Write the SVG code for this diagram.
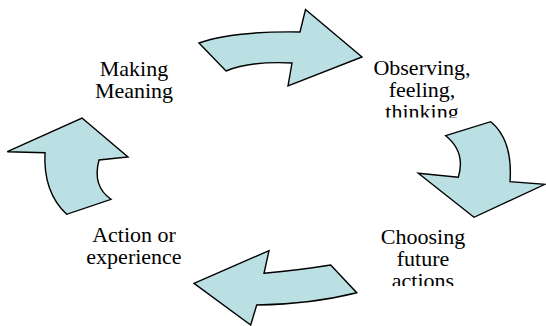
<svg xmlns="http://www.w3.org/2000/svg" width="546" height="326" viewBox="0 0 546 326">
  <style>
    .arrow { fill: #BBE0E3; stroke: #000; stroke-width: 1.4; stroke-linejoin: miter; }
    .label { font-size: 22px; fill: #000; text-anchor: middle; }
  </style>
  <defs>
    <clipPath id="clipObserve"><rect x="340" y="40" width="170" height="77.5"/></clipPath>
    <clipPath id="clipChoose"><rect x="340" y="222" width="170" height="64"/></clipPath>
  </defs>
  <rect width="546" height="326" fill="#fff"/>

  <!-- curved block arrows forming the cycle -->
  <g id="connectors">
    <path id="arrow-top" class="arrow" d="M199,43 Q232,31 300,32 L305.5,9.5 L362,57 L288,86 L292,63 Q250,61 226,71 Z"/>
    <path id="arrow-right" class="arrow" d="M445.7,135.7 L490.7,121.7 Q513,140 510,181.7 L545,184.3 L474,217.3 L418.3,173.3 L458.3,177.3 Q466,152 445.7,135.7 Z"/>
    <path id="arrow-bottom" class="arrow" d="M194,283.3 L269,250.7 L264,273.3 Q300,270 330.7,265 L356.7,292.7 Q312,304 256.7,305 L250.7,325 Z"/>
    <path id="arrow-left" class="arrow" d="M82,118 L128,157 L99,160 Q92,186 111,199.3 L66.7,214.3 Q43,192 45,152.7 L7.3,151.7 Z"/>
  </g>

  <g font-family="Liberation Serif">
    <g id="node-making-meaning">
      <text class="label" font-family="Liberation Serif" x="134" y="76">Making</text>
      <text class="label" font-family="Liberation Serif" x="134" y="98">Meaning</text>
    </g>

    <g id="node-observing" clip-path="url(#clipObserve)">
      <text class="label" font-family="Liberation Serif" x="422" y="75">Observing,</text>
      <text class="label" font-family="Liberation Serif" x="422" y="97">feeling,</text>
      <text class="label" font-family="Liberation Serif" x="422" y="119">thinking</text>
    </g>

    <g id="node-choosing" clip-path="url(#clipChoose)">
      <text class="label" font-family="Liberation Serif" x="423" y="244">Choosing</text>
      <text class="label" font-family="Liberation Serif" x="423" y="266">future</text>
      <text class="label" font-family="Liberation Serif" x="423" y="288">actions</text>
    </g>

    <g id="node-action">
      <text class="label" font-family="Liberation Serif" x="134" y="242">Action or</text>
      <text class="label" font-family="Liberation Serif" x="134" y="264">experience</text>
    </g>
  </g>
</svg>
